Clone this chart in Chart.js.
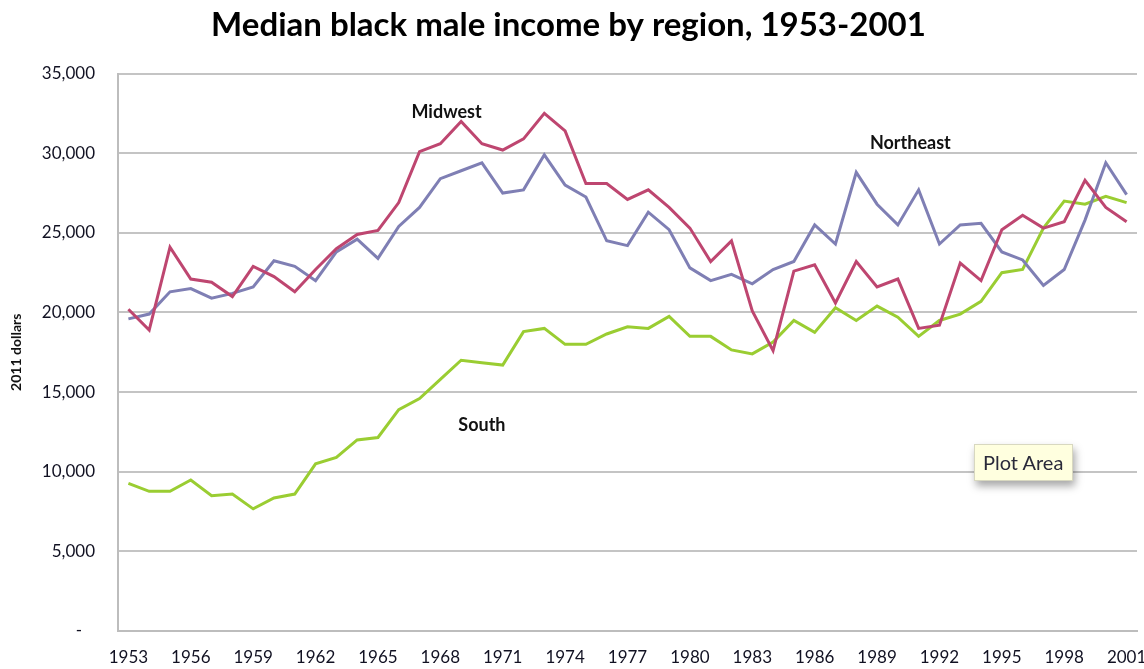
<!DOCTYPE html>
<html lang="en">
<head>
    <meta charset="UTF-8">
    <title>Median black male income by region, 1953-2001</title>
    <script src="https://cdn.jsdelivr.net/npm/chart.js"></script>
    <style>
        html, body { margin: 0; padding: 0; background: #fff; }
        #wrap { position: relative; width: 1144px; height: 669px; }
        #tip {
            position: absolute; left: 974px; top: 444px;
            padding: 5px 9px 6px 8px;
            background: #ffffdf; border: 1px solid #d8d8c0;
            box-shadow: 2px 5px 8px rgba(0, 0, 0, 0.35);
            font: 20px Lato, sans-serif; line-height: 24px; color: #2a2a3a;
        }
    </style>
</head>
<body>
<div id="wrap">
    <canvas id="incomeChart" width="1144" height="669"></canvas>
    <div id="tip">Plot Area</div>
</div>
<script>
    // Years on the category axis
    const years = [
        1953, 1954, 1955, 1956, 1957, 1958, 1959, 1960, 1961, 1962,
        1963, 1964, 1965, 1966, 1967, 1968, 1969, 1970, 1971, 1972,
        1973, 1974, 1975, 1976, 1977, 1978, 1979, 1980, 1981, 1982,
        1983, 1984, 1985, 1986, 1987, 1988, 1989, 1990, 1991, 1992,
        1993, 1994, 1995, 1996, 1997, 1998, 1999, 2000, 2001
    ];

    // Median income, 2011 dollars
    const midwest = [
        20200, 18900, 24100, 22100, 21900, 21000, 22900, 22250, 21300, 22700,
        24000, 24900, 25150, 26900, 30100, 30600, 32000, 30600, 30200, 30900,
        32500, 31400, 28100, 28100, 27100, 27700, 26600, 25300, 23200, 24500,
        20100, 17600, 22600, 23000, 20600, 23200, 21600, 22100, 19000, 19200,
        23100, 22000, 25200, 26100, 25300, 25700, 28300, 26600, 25700
    ];
    const northeast = [
        19600, 19900, 21300, 21500, 20900, 21200, 21600, 23250, 22900, 22000,
        23800, 24600, 23400, 25400, 26600, 28400, 28900, 29400, 27500, 27700,
        29900, 28000, 27250, 24500, 24200, 26300, 25200, 22800, 22000, 22400,
        21800, 22700, 23200, 25500, 24300, 28800, 26800, 25500, 27700, 24300,
        25500, 25600, 23800, 23300, 21700, 22700, 25800, 29400, 27400
    ];
    const south = [
        9270, 8770, 8770, 9480, 8500, 8600, 7670, 8350, 8600, 10500,
        10900, 12000, 12150, 13900, 14600, 15800, 17000, 16850, 16700, 18800,
        19000, 18000, 18000, 18650, 19100, 19000, 19750, 18500, 18500, 17650,
        17400, 18150, 19500, 18750, 20300, 19500, 20400, 19700, 18500, 19500,
        19900, 20700, 22500, 22700, 25300, 27000, 26800, 27300, 26900
    ];

    // Series labels written inside the plot: [text, year index, value]
    const seriesLabels = [
        ["Midwest", 15.3, 32600],
        ["Northeast", 37.6, 30650],
        ["South", 17.0, 12900]
    ];

    const yTicks = [0, 5000, 10000, 15000, 20000, 25000, 30000, 35000];

    const labelPlugin = {
        id: "seriesLabels",
        afterDatasetsDraw(chart) {
            const ctx = chart.ctx;
            const xs = chart.scales.x, ys = chart.scales.y;
            ctx.save();
            ctx.font = "bold 18px Lato, sans-serif";
            ctx.fillStyle = "#111";
            ctx.textAlign = "center";
            ctx.textBaseline = "middle";
            seriesLabels.forEach(([text, xi, v]) => {
                const i0 = Math.floor(xi);
                const px = xs.getPixelForValue(i0) + (xi - i0) * (xs.getPixelForValue(i0 + 1) - xs.getPixelForValue(i0));
                ctx.fillText(text, px, ys.getPixelForValue(v));
            });
            ctx.restore();
        }
    };

    new Chart(document.getElementById("incomeChart"), {
        type: "line",
        data: {
            labels: years,
            datasets: [
                { label: "Midwest", data: midwest, borderColor: "#be4670" },
                { label: "Northeast", data: northeast, borderColor: "#7f7fb4" },
                { label: "South", data: south, borderColor: "#9acd32" }
            ]
        },
        options: {
            responsive: false,
            animation: false,
            layout: { padding: { left: 0, right: 7, top: 0, bottom: 0 } },
            elements: {
                line: { borderWidth: 3, tension: 0 },
                point: { radius: 0, hoverRadius: 0 }
            },
            plugins: {
                legend: { display: false },
                tooltip: { enabled: false },
                title: {
                    display: true,
                    text: "Median black male income by region, 1953-2001",
                    color: "#000",
                    font: { family: "Lato, sans-serif", size: 33, weight: "bold" },
                    padding: { top: 6, bottom: 28 }
                }
            },
            scales: {
                x: {
                    offset: true,
                    afterFit: (s) => { s.height = 38; s.paddingLeft = 0; s.paddingRight = 0; },
                    grid: { display: false, drawTicks: false },
                    border: { color: "#bdbdbd", width: 2 },
                    ticks: {
                        autoSkip: false,
                        maxRotation: 0,
                        padding: 16,
                        color: "#111122",
                        font: { family: "Lato, sans-serif", size: 17 },
                        callback: (v, i) => (i % 3 === 0 ? years[i] : "")
                    }
                },
                y: {
                    min: 0,
                    max: 35000,
                    afterFit: (s) => { s.width = 118; },
                    afterBuildTicks: (s) => { s.ticks = yTicks.map(v => ({ value: v })); },
                    grid: { color: "#c4c4c4", lineWidth: 2, drawTicks: false },
                    border: { color: "#bdbdbd", width: 2 },
                    title: {
                        display: true,
                        text: "2011 dollars",
                        color: "#111",
                        font: { family: "Lato, sans-serif", size: 14, weight: "bold" },
                        padding: { top: 8, bottom: 4 }
                    },
                    ticks: {
                        padding: 23,
                        color: "#111122",
                        font: { family: "Lato, sans-serif", size: 17 },
                        callback: (v) => (v === 0 ? "-   " : v.toLocaleString("en-US"))
                    }
                }
            }
        },
        plugins: [labelPlugin]
    });
</script>
</body>
</html>
